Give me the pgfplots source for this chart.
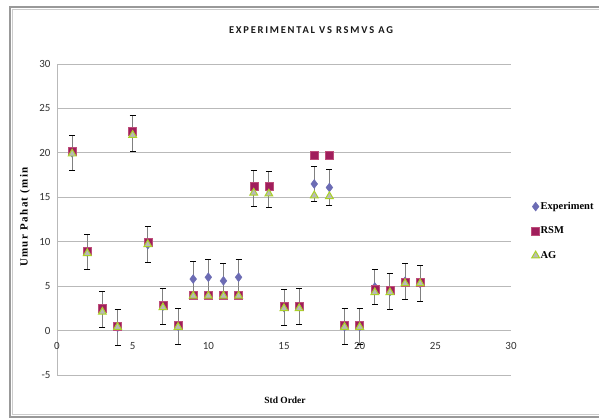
\documentclass[border=0pt]{standalone}
\usepackage{fontspec}
\setmainfont{Liberation Serif}
\newfontfamily\calibri{Carlito}
\usepackage{pgfplots}
\pgfplotsset{compat=1.18}
\definecolor{expc}{RGB}{108,108,180}
\definecolor{rsmc}{RGB}{160,30,92}
\definecolor{agc}{RGB}{170,210,40}
\definecolor{grd}{RGB}{185,185,185}
\begin{document}
\begin{tikzpicture}[x=1bp,y=1bp]
\useasboundingbox (0,0) rectangle (599,419);
\fill[white] (0,0) rectangle (599,419);
\draw[gray!80, line width=1.2pt] (10,2) rectangle (640,412);
\draw[gray!40, line width=0.6pt] (12.5,4.5) rectangle (640,409.5);
\begin{axis}[
  at={(57bp,44bp)}, anchor=south west,
  scale only axis, width=454bp, height=311bp,
  xmin=0, xmax=30, ymin=-5, ymax=30,
  xtick={0,5,...,30}, ytick={-5,0,...,30},
  axis x line=middle, axis y line=left,
  hide obscured x ticks=false,
  axis line style={grd, line width=1pt, -},
  ymajorgrids, grid style={grd, line width=1pt},
  major tick length=0pt,
  /pgf/number format/assume math mode=true,
  tick label style={font=\calibri\fontsize{11}{12}\selectfont, text=black!80},
  yticklabel style={xshift=-3bp},
  xticklabel style={yshift=-8bp},
  clip=false,
  legend style={at={(1.045,0.463)}, anchor=west, draw=none, fill=none,
    font=\bfseries\fontsize{10.5}{11}\selectfont, row sep=14bp,
    inner sep=0pt, nodes={inner sep=1pt}},
  legend cell align=left,
]
\addplot[only marks, mark=diamond*, mark size=4.5bp, color=expc,
  error bars/.cd, y dir=both, y explicit,
  error bar style={gray, line width=1pt},
  error mark options={black, rotate=90, mark size=3bp, line width=0.8pt}]
  table[x=x, y=y, y error=e] {
x y e
1 20.0 2
2 8.84 2
3 2.4 2
4 0.36 2
5 22.2 2
6 9.67 2
7 2.75 2
8 0.5 2
9 5.8 2
10 6.0 2
11 5.6 2
12 6.0 2
13 16.0 2
14 15.9 2
15 2.6 2
16 2.7 2
17 16.5 2
18 16.1 2
19 0.45 2
20 0.45 2
21 4.9 2
22 4.4 2
23 5.55 2
24 5.3 2
};
\addlegendentry{Experiment}
\addplot[only marks, mark=square*, mark size=4bp, color=rsmc, mark options={draw=rsmc!70!pink}]
  table[x=x, y=y] {
x y
1 20.2
2 8.9
3 2.5
4 0.5
5 22.4
6 10.0
7 2.9
8 0.6
9 4.0
10 4.0
11 4.0
12 4.0
13 16.2
14 16.2
15 2.7
16 2.7
17 19.7
18 19.7
19 0.6
20 0.6
21 4.7
22 4.6
23 5.5
24 5.5
};
\addlegendentry{RSM}
\addplot[only marks, mark=triangle*, mark size=4.5bp, mark options={draw=agc, fill=gray!55, line width=1pt}]
  table[x=x, y=y] {
x y
1 19.9
2 8.7
3 2.1
4 0.4
5 22.0
6 9.7
7 2.6
8 0.4
9 3.9
10 3.9
11 3.9
12 3.9
13 15.5
14 15.4
15 2.5
16 2.5
17 15.2
18 15.1
19 0.4
20 0.4
21 4.3
22 4.3
23 5.3
24 5.3
};
\addlegendentry{AG}
\end{axis}
\node[font=\calibri\bfseries\fontsize{10.5}{11}\selectfont\addfontfeature{LetterSpace=17}, text=black!90] at (311,389) {EXPERIMENTAL VS RSMVS AG};
\node[font=\bfseries\fontsize{11}{12}\selectfont\addfontfeature{LetterSpace=13}, rotate=90] at (25,202) {Umur Pahat (min};
\node[font=\bfseries\fontsize{9.5}{10}\selectfont] at (285,19) {Std Order};
\end{tikzpicture}
\end{document}
